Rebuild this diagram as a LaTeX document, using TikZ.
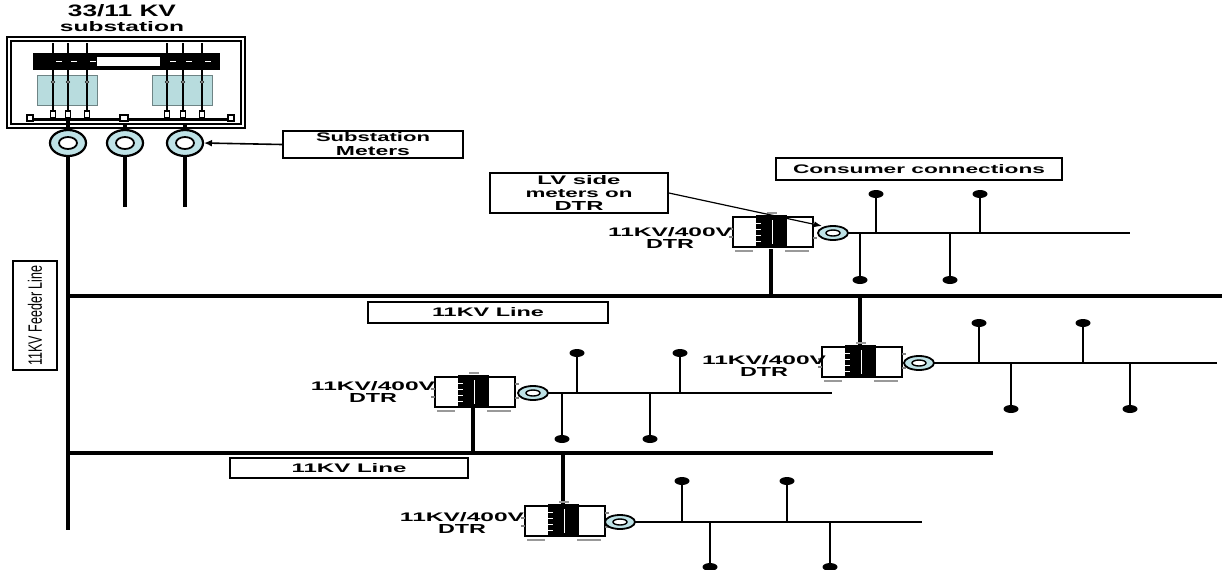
\documentclass[tikz,border=0pt]{standalone}
\usepackage{fontspec}
\setmainfont{Liberation Sans}
\usepackage{graphicx}
\usetikzlibrary{arrows.meta}

\definecolor{ctblue}{RGB}{184,220,222}
\definecolor{meterblue}{RGB}{190,226,230}

\newcommand{\wtxt}[3]{\resizebox{#1pt}{#2pt}{#3}}
\newcommand{\dtrname}{\wtxt{62}{4.5}{11KV/400V}\\\wtxt{24}{4.5}{DTR}}

\tikzset{
  hvline/.style={line width=1.6pt},
  feederline/.style={line width=2.3pt},
  tapline/.style={line width=2.2pt},
  lvline/.style={line width=0.7pt},
  poleline/.style={line width=1.3pt},
  labelbox/.style={draw, line width=0.9pt, inner sep=0pt, align=center,
    font=\bfseries\fontsize{5}{7}\selectfont},
  dtrlabel/.style={inner sep=0pt, align=center, anchor=north,
    font=\bfseries\fontsize{5}{6}\selectfont},
  subtitle/.style={inner sep=0pt, align=center, anchor=north,
    font=\bfseries\fontsize{6}{7.5}\selectfont},
  submeter/.pic={
    \filldraw[fill=meterblue, line width=1.1pt]
      (0,0) ellipse [x radius=18, y radius=13];
    \filldraw[fill=white, line width=0.9pt]
      (0,0) ellipse [x radius=9, y radius=6];
  },
  lvmeter/.pic={
    \filldraw[fill=meterblue, line width=0.9pt]
      (0,0) ellipse [x radius=15, y radius=7];
    \filldraw[fill=white, line width=0.7pt]
      (0,0) ellipse [x radius=7, y radius=3];
  },
  polecap/.pic={
    \fill (0,0) ellipse [x radius=7.5, y radius=4];
  },
  dtr/.pic={
    \draw[line width=0.9pt, fill=white]
      (-40,-15) rectangle (-15,15);
    \draw[line width=0.9pt, fill=white]
      (10,-15) rectangle (40,15);
    \fill
      (-17,-17) rectangle (14,16);
    \draw[white, line width=0.5pt]
      (-1,-12) -- (-1,12);
    \foreach \yy in {-9,-3,3,9}
      \draw[white, line width=0.5pt] (-17,\yy) -- (-12,\yy);
    \draw[gray, line width=0.8pt]
      (-44,-3) -- (-40,-3)
      (-44,5) -- (-40,5)
      (40,-8) -- (44,-8)
      (40,6) -- (44,6);
    \draw[gray!80, line width=0.9pt]
      (-38,19) -- (-20,19)
      (12,19) -- (36,19)
      (-6,-19) -- (4,-19);
  },
}

\begin{document}
\begin{tikzpicture}[x=0.5pt,y=-0.5pt]
  \useasboundingbox (0,0) rectangle (1222,569);

  \node[subtitle] (subname) at (122,4)
    {\wtxt{54}{6}{33/11 KV}\\\wtxt{62}{5}{substation}};
  \draw[line width=1pt]
    (7,37) rectangle (245,128);
  \draw[line width=1pt]
    (11,41) rectangle (241,124);
  \fill
    (33,53) rectangle (220,70);
  \fill[white]
    (97,57) rectangle (160,66);
  \filldraw[fill=ctblue, draw=ctblue!60!black, line width=0.5pt]
    (37,75) rectangle (97,105);
  \filldraw[fill=ctblue, draw=ctblue!60!black, line width=0.5pt]
    (152,75) rectangle (212,105);
  \foreach \x in {53,68,87,167,183,202} {
    \draw[line width=1.2pt]
      (\x,43) -- (\x,116);
    \draw[white, line width=0.5pt]
      (\x+3,61.5) -- (\x+9,61.5);
    \draw[fill=white, line width=0.4pt]
      (\x,82) circle [radius=1.6];
    \draw[fill=white, line width=0.6pt]
      (\x-2.5,111) rectangle (\x+2.5,118);
  }
  \draw[line width=1.5pt]
    (28,119) -- (233,119);
  \draw[fill=white, line width=0.6pt]
    (27,115) rectangle (33,121)
    (228,115) rectangle (234,121)
    (120,115) rectangle (128,121);

  \coordinate (sm1) at (68,143);
  \coordinate (sm2) at (125,143);
  \coordinate (sm3) at (185,143);
  \coordinate (sm3tip) at (204,143);
  \draw[feederline]
    (68,121) -- (68,530);
  \draw[line width=2pt]
    (125,124) -- (125,207)
    (185,124) -- (185,207);
  \pic at (sm1) {submeter};
  \pic at (sm2) {submeter};
  \pic at (sm3) {submeter};
  \node[labelbox, minimum width=90pt, minimum height=13.5pt]
    (subm) at (373,144.5)
    {\wtxt{57}{4.5}{Substation}\\\wtxt{37}{4.5}{Meters}};
  \draw[line width=0.8pt, -{Latex[length=4pt, width=3.5pt]}]
    (subm.west) -- (sm3tip);

  \node[labelbox, rotate=90, minimum width=54.5pt, minimum height=22pt,
    font=\fontsize{5}{7}\selectfont]
    (feederbox) at (35,315.5)
    {\wtxt{50}{7}{11KV Feeder Line}};

  \coordinate (line1end) at (1222,296);
  \coordinate (line2end) at (993,453);
  \draw[hvline]
    (68,296) -- (line1end);
  \draw[hvline]
    (68,453) -- (line2end);
  \node[labelbox, minimum width=120pt, minimum height=10.5pt]
    (line1lbl) at (488,312.5)
    {\wtxt{56}{4.5}{11KV Line}};
  \node[labelbox, minimum width=119pt, minimum height=10pt]
    (line2lbl) at (349,468)
    {\wtxt{57.5}{4.5}{11KV Line}};

  \coordinate (dA) at (773,232);
  \coordinate (mA) at (833,233);
  \draw[tapline]
    (771,249) -- (771,296);
  \pic at (dA) {dtr};
  \pic at (mA) {lvmeter};
  \node[dtrlabel] (lblA) at (670,227.5) {\dtrname};
  \draw[lvline]
    (848,233) -- (1130,233);
  \foreach \x in {876,980} {
    \draw[poleline] (\x,233) -- (\x,195);
    \pic at (\x,194) {polecap};
  }
  \foreach \x in {860,950} {
    \draw[poleline] (\x,233) -- (\x,279);
    \pic at (\x,280) {polecap};
  }

  \coordinate (dB) at (862,362);
  \coordinate (mB) at (919,363);
  \draw[tapline]
    (860,296) -- (860,346);
  \pic at (dB) {dtr};
  \pic at (mB) {lvmeter};
  \node[dtrlabel] (lblB) at (764,355) {\dtrname};
  \draw[lvline]
    (934,363) -- (1217,363);
  \foreach \x in {979,1083} {
    \draw[poleline] (\x,363) -- (\x,324);
    \pic at (\x,323) {polecap};
  }
  \foreach \x in {1011,1130} {
    \draw[poleline] (\x,363) -- (\x,408);
    \pic at (\x,409) {polecap};
  }

  \coordinate (dC) at (475,392);
  \coordinate (mC) at (533,393);
  \draw[tapline]
    (473,408) -- (473,453);
  \pic at (dC) {dtr};
  \pic at (mC) {lvmeter};
  \node[dtrlabel] (lblC) at (373,381.5) {\dtrname};
  \draw[lvline]
    (548,393) -- (832,393);
  \foreach \x in {577,680} {
    \draw[poleline] (\x,393) -- (\x,354);
    \pic at (\x,353) {polecap};
  }
  \foreach \x in {562,650} {
    \draw[poleline] (\x,393) -- (\x,438);
    \pic at (\x,439) {polecap};
  }

  \coordinate (dD) at (565,521);
  \coordinate (mD) at (620,522);
  \draw[tapline]
    (563,453) -- (563,505);
  \pic at (dD) {dtr};
  \pic at (mD) {lvmeter};
  \node[dtrlabel] (lblD) at (462,512) {\dtrname};
  \draw[lvline]
    (635,522) -- (922,522);
  \foreach \x in {682,787} {
    \draw[poleline] (\x,522) -- (\x,482);
    \pic at (\x,481) {polecap};
  }
  \foreach \x in {710,830} {
    \draw[poleline] (\x,522) -- (\x,566);
    \pic at (\x,567) {polecap};
  }

  \coordinate (mAtip) at (822,226);
  \node[labelbox, minimum width=89pt, minimum height=20pt,
    font=\bfseries\fontsize{5}{6.5}\selectfont]
    (lvbox) at (579,193)
    {\wtxt{41.5}{4.5}{LV side}\\\wtxt{53.5}{4}{meters on}\\\wtxt{24.5}{4.5}{DTR}};
  \draw[line width=0.6pt, -{Latex[length=4pt, width=3pt]}]
    (lvbox.east) -- (mAtip);
  \node[labelbox, minimum width=143pt, minimum height=11pt]
    (consumers) at (919,169)
    {\wtxt{126}{4.5}{Consumer connections}};
\end{tikzpicture}
\end{document}
